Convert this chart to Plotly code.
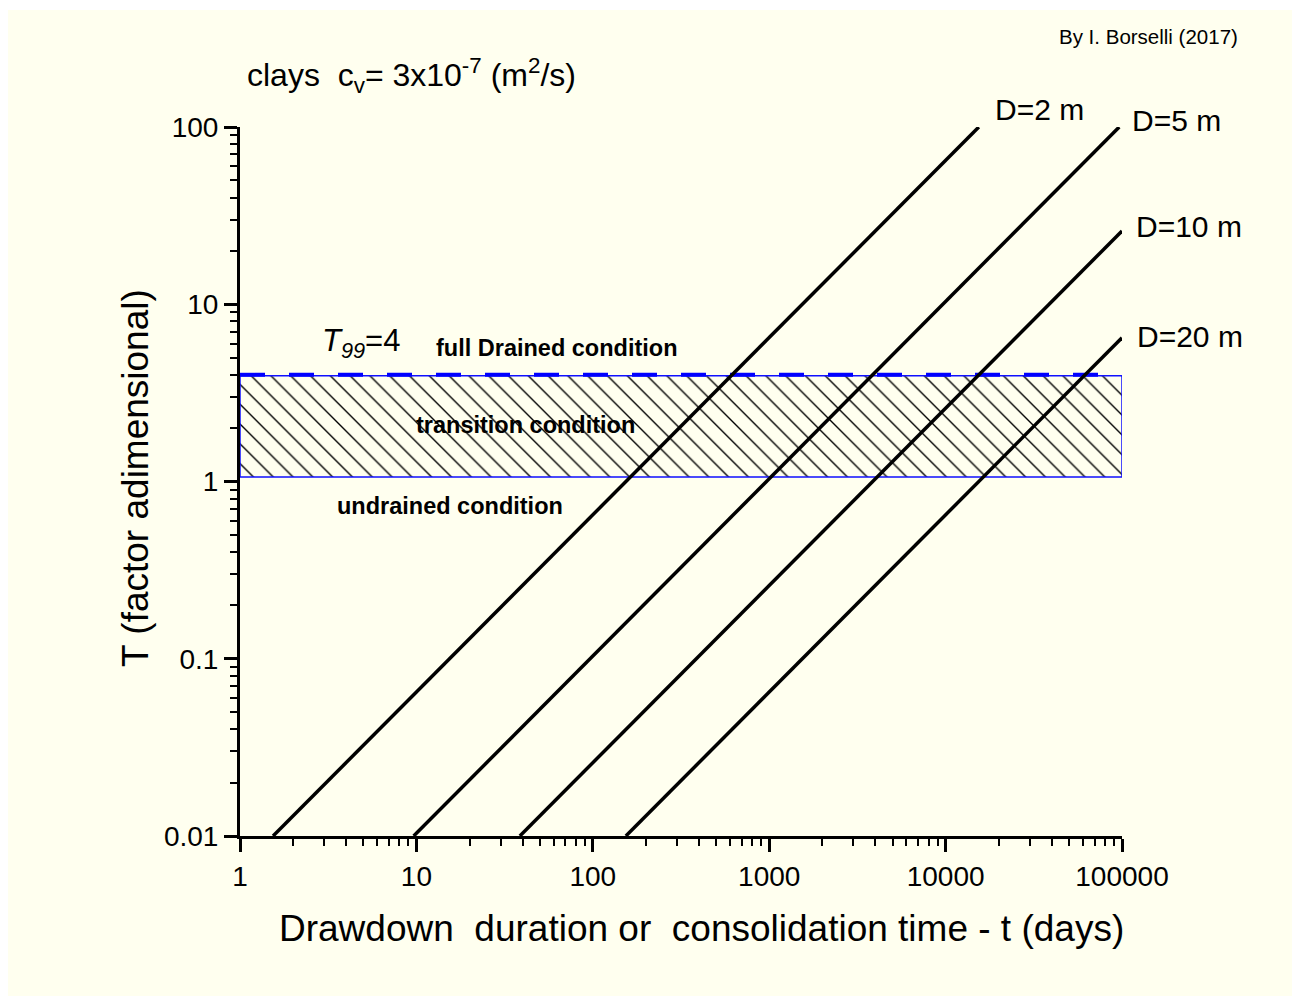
import math
import plotly.graph_objects as go

# Consolidation lines: time factor T versus time t (days) for each drainage length D
line_names = ["D=2 m", "D=5 m", "D=10 m", "D=20 m"]
line_t = [[1.54, 15430], [9.65, 96450], [38.6, 100000], [154, 100000]]
line_T = [[0.01, 100], [0.01, 100], [0.01, 25.9], [0.01, 6.48]]

# Transition band between undrained and fully drained conditions
band_t = [1, 100000]
band_T = [1.06, 3.95]
T99 = 4
T99_t = [1, 75000]

x_tickvals = [1, 10, 100, 1000, 10000, 100000]
x_ticktext = ["1", "10", "100", "1000", "10000", "100000"]
y_tickvals = [0.01, 0.1, 1, 10, 100]
y_ticktext = ["0.01", "0.1", "1", "10", "100"]

FONT = "Arial, Liberation Sans, sans-serif"
CREAM = "#FFFFEF"


def minor_vals(decades):
    return [m * d for d in decades for m in range(2, 10)]


def lg(v):
    return math.log10(v)


fig = go.Figure()

# hatched transition band
fig.add_trace(go.Scatter(
    x=[band_t[0], band_t[1], band_t[1], band_t[0], band_t[0]],
    y=[band_T[0], band_T[0], band_T[1], band_T[1], band_T[0]],
    mode="lines", fill="toself",
    line=dict(color="#1010FF", width=1.5),
    fillcolor="rgba(0,0,0,0)",
    fillpattern=dict(shape="\\", fgcolor="black", fgopacity=1, bgcolor=CREAM,
                     size=14, solidity=0.1),
    hoverinfo="skip", showlegend=False,
))

# T99 dashed reference line
fig.add_trace(go.Scatter(
    x=T99_t, y=[T99, T99], mode="lines",
    line=dict(color="#0000FF", width=4, dash="25px,24px"),
    hoverinfo="skip", showlegend=False,
))

for name, xs, ys in zip(line_names, line_t, line_T):
    fig.add_trace(go.Scatter(
        x=xs, y=ys, mode="lines", name=name,
        line=dict(color="black", width=3.5),
        showlegend=False,
    ))

# line labels at the upper/right ends of each line (paper coordinates)
label_pos = {"D=2 m": (0.8537, 1.024), "D=5 m": (1.009, 1.0085),
             "D=10 m": (1.0136, 0.859), "D=20 m": (1.0147, 0.704)}
for name in line_names:
    lx, ly = label_pos[name]
    fig.add_annotation(x=lx, y=ly, xref="paper", yref="paper", text=name,
                       showarrow=False, xanchor="left", yanchor="middle",
                       font=dict(family=FONT, size=30, color="black"))

fig.add_annotation(x=lg(2.84), y=lg(6.04), xref="x", yref="y",
                   text="<i>T</i><sub><i>99</i></sub>=4",
                   showarrow=False, xanchor="left", yanchor="middle",
                   font=dict(family=FONT, size=31, color="black"))
for txt, lx, ly in [("full Drained condition", 62.7, 5.66),
                    ("transition condition", 41.3, 2.08),
                    ("undrained condition", 15.5, 0.728)]:
    fig.add_annotation(x=lg(lx), y=lg(ly), xref="x", yref="y", text="<b>" + txt + "</b>",
                       showarrow=False, xanchor="center", yanchor="middle",
                       font=dict(family=FONT, size=23.5, color="black"))

# headings
fig.add_annotation(x=0.0057, y=1.073, xref="paper", yref="paper",
                   text="clays  c<sub>v</sub>= 3x10<sup>-7</sup> (m<sup>2</sup>/s)",
                   showarrow=False, xanchor="left", yanchor="middle",
                   font=dict(family=FONT, size=32, color="black"))
fig.add_annotation(x=1.134, y=1.127, xref="paper", yref="paper",
                   text="By I. Borselli (2017)",
                   showarrow=False, xanchor="right", yanchor="middle",
                   font=dict(family=FONT, size=20.5, color="black"))

# axis titles
fig.add_annotation(x=0.523, y=-0.130, xref="paper", yref="paper",
                   text="Drawdown  duration or  consolidation time - t (days)",
                   showarrow=False, xanchor="center", yanchor="middle",
                   font=dict(family=FONT, size=37, color="black"))
fig.add_annotation(x=-0.118, y=0.505, xref="paper", yref="paper",
                   text="T (factor adimensional)", textangle=-90,
                   showarrow=False, xanchor="center", yanchor="middle",
                   font=dict(family=FONT, size=37, color="black"))

# cream page panel
fig.add_shape(type="rect", xref="paper", yref="paper",
              x0=-0.263, x1=1.2, y0=-0.23, y1=1.165,
              fillcolor=CREAM, line=dict(width=0), layer="below")

axis_common = dict(
    type="log", showgrid=False, zeroline=False,
    showline=True, linecolor="black", linewidth=3,
    ticks="outside", ticklen=13, tickwidth=3, tickcolor="black",
    tickfont=dict(family=FONT, size=28, color="black"),
)

fig.update_xaxes(range=[0, 5], tickvals=x_tickvals, ticktext=x_ticktext,
                 minor=dict(tickvals=minor_vals([1, 10, 100, 1000, 10000]),
                            ticks="outside", ticklen=7, tickwidth=2,
                            tickcolor="black", showgrid=False),
                 **axis_common)
fig.update_yaxes(range=[-2, 2], tickvals=y_tickvals, ticktext=y_ticktext,
                 minor=dict(tickvals=minor_vals([0.01, 0.1, 1, 10]),
                            ticks="outside", ticklen=7, tickwidth=2,
                            tickcolor="black", showgrid=False),
                 **axis_common)

fig.update_layout(
    width=1292, height=996,
    margin=dict(l=240, r=170, t=127, b=160),
    paper_bgcolor="white", plot_bgcolor=CREAM,
    showlegend=False,
)

fig.write_html("out.html")
